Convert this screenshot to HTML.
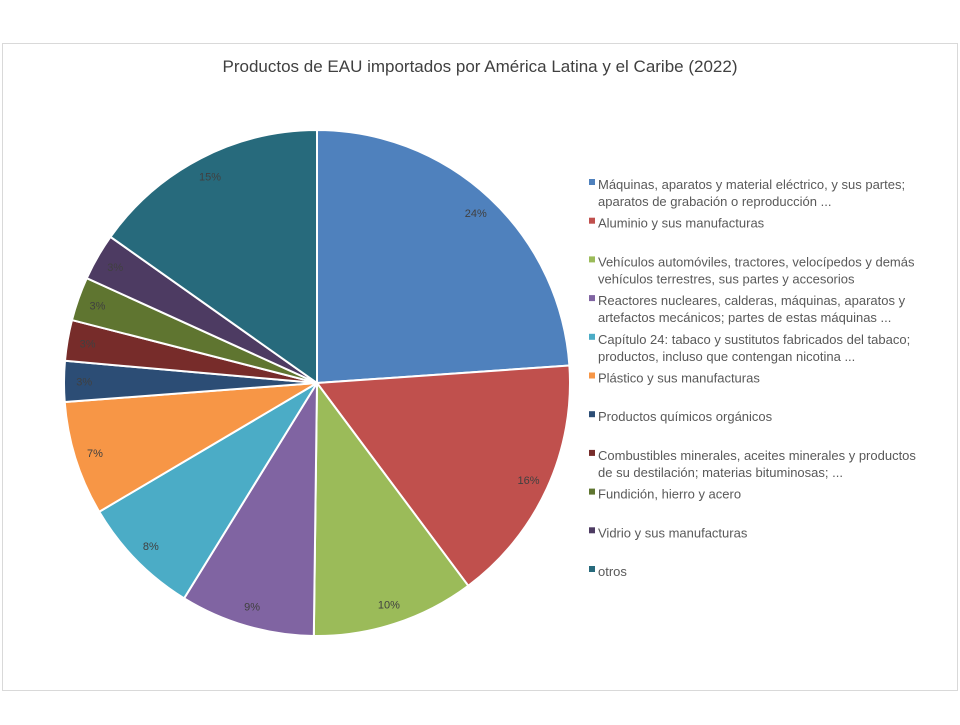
<!DOCTYPE html>
<html><head><meta charset="utf-8"><style>
body{margin:0;background:#fff;width:960px;height:720px;overflow:hidden;font-family:"Liberation Sans",Arial,sans-serif}
</style></head><body>
<svg id="chart" width="960" height="720">
<rect x="2.5" y="43.5" width="955" height="647" fill="#fff" stroke="#d9d9d9"/>
<text x="480" y="72" text-anchor="middle" font-size="17" fill="#404040">Productos de EAU importados por América Latina y el Caribe (2022)</text>
<g id="slices"></g><g id="labels"></g><g id="legend"></g>
</svg>
<script>
const categories=[["Máquinas, aparatos y material eléctrico, y sus partes;","aparatos de grabación o reproducción ..."],["Aluminio y sus manufacturas"],["Vehículos automóviles, tractores, velocípedos y demás","vehículos terrestres, sus partes y accesorios"],["Reactores nucleares, calderas, máquinas, aparatos y","artefactos mecánicos; partes de estas máquinas ..."],["Capítulo 24: tabaco y sustitutos fabricados del tabaco;","productos, incluso que contengan nicotina ..."],["Plástico y sus manufacturas"],["Productos químicos orgánicos"],["Combustibles minerales, aceites minerales y productos","de su destilación; materias bituminosas; ..."],["Fundición, hierro y acero"],["Vidrio y sus manufacturas"],["otros"]];
const values=[23.9,15.9,10.4,8.6,7.7,7.3,2.6,2.6,2.8,3.0,15.2];
const valueLabels=["24%","16%","10%","9%","8%","7%","3%","3%","3%","3%","15%"];
const colors=["#4f81bd","#c0504d","#9bbb59","#8064a2","#4bacc6","#f79646","#2c4d75","#772c2a","#5f7530","#4d3b62","#276a7c"];
const cx=317,cy=383,r=253;
const NS="http://www.w3.org/2000/svg";
const total=values.reduce((a,b)=>a+b,0);
function pt(a,rr){return [cx+rr*Math.sin(a),cy-rr*Math.cos(a)];}
let acc=0;
const gs=document.getElementById('slices'),gl=document.getElementById('labels'),gg=document.getElementById('legend');
values.forEach((v,i)=>{
  const a0=acc/total*2*Math.PI; acc+=v; const a1=acc/total*2*Math.PI;
  const p0=pt(a0,r),p1=pt(a1,r);
  const p=document.createElementNS(NS,'path');
  p.setAttribute('d',`M${cx},${cy}L${p0[0]},${p0[1]}A${r},${r} 0 ${a1-a0>Math.PI?1:0} 1 ${p1[0]},${p1[1]}Z`);
  p.setAttribute('fill',colors[i]);p.setAttribute('stroke','#fff');p.setAttribute('stroke-width','2');
  
  
  gs.appendChild(p);
  const lp=pt((a0+a1)/2,r*0.92);
  const t=document.createElementNS(NS,'text');
  t.setAttribute('x',lp[0]);t.setAttribute('y',lp[1]+4);t.setAttribute('text-anchor','middle');
  t.setAttribute('font-size','11');t.setAttribute('fill','#404040');t.textContent=valueLabels[i];
  
  
  gl.appendChild(t);
});
categories.forEach((lines,i)=>{
  const y=184+i*38.7;
  const g=document.createElementNS(NS,'g');
  
  
  const s=document.createElementNS(NS,'rect');
  s.setAttribute('x',589);s.setAttribute('y',y-5);s.setAttribute('width',6);s.setAttribute('height',6);s.setAttribute('fill',colors[i]);
  g.appendChild(s);
  lines.forEach((ln,j)=>{
    const t=document.createElementNS(NS,'text');
    t.setAttribute('x',598);t.setAttribute('y',y+5+j*17);t.setAttribute('font-size','13');t.setAttribute('fill','#595959');
    t.textContent=ln;g.appendChild(t);
  });
  gg.appendChild(g);
});
</script>
</body></html>
